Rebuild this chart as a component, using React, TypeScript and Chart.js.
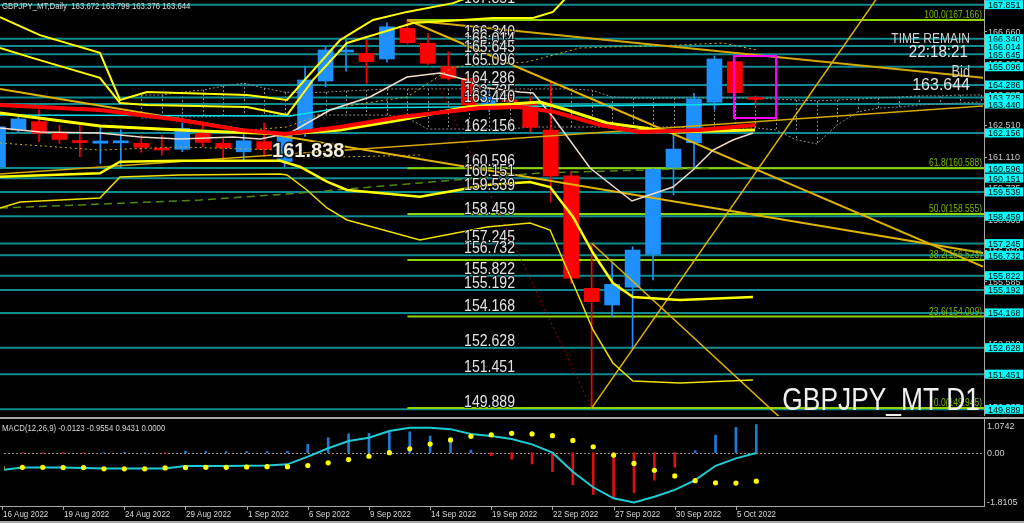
import React, { useEffect, useRef } from "react";
import { Chart, registerables } from "chart.js";

Chart.register(...registerables);

type P = [number, number];

// ---------- texts ----------
const symbolTitle = "GBPJPY_MT,Daily  163.672 163.799 163.376 163.644";
const macdTitle = "MACD(12,26,9) -0.0123 -0.9554 0.9431 0.0000";
const watermark = "GBPJPY_MT D1";
const timeLabel = "TIME REMAIN";
const timeValue = "22:18:21";
const bidLabel = "Bid";
const bidValue = "163.644";
const markText = "161.838";
const markPrice = 161.838;
const markBar = 13.39;

// ---------- candles (bar index 0 = 16 Aug 2022) ----------
const opens = [160.66, 162.29, 162.66, 162.14, 161.82, 161.7, 161.72, 161.7, 161.45, 161.43, 162.14, 161.7, 161.32, 161.77, 160.89, 162.14, 164.46, 165.75, 165.69, 165.44, 166.8, 166.14, 165.1, 164.58, 163.25, 163.62, 163.44, 162.29, 160.25, 155.26, 154.52, 155.31, 156.77, 160.63, 161.72, 163.52, 165.32, 163.672];
const highs = [162.6, 162.95, 163.17, 162.5, 162.5, 162.4, 162.3, 162.05, 162.05, 162.6, 162.66, 161.9, 162.15, 162.6, 162.2, 165.1, 166.0, 166.28, 166.28, 167.04, 167.17, 166.58, 165.76, 164.62, 164.0, 163.9, 163.77, 164.43, 160.44, 157.26, 156.37, 157.11, 160.6, 162.21, 163.92, 165.57, 165.4, 163.799];
const lows = [160.5, 162.2, 161.77, 161.7, 161.1, 160.8, 160.6, 161.3, 161.17, 161.33, 161.55, 160.88, 160.95, 161.1, 160.66, 162.0, 164.2, 164.9, 164.36, 165.3, 166.1, 165.2, 164.5, 163.35, 163.1, 163.3, 162.21, 159.1, 155.48, 149.945, 154.0, 152.6, 155.63, 159.4, 160.59, 163.2, 163.8, 163.376];
const closes = [162.43, 162.78, 162.14, 161.87, 161.73, 161.8, 161.77, 161.52, 161.4, 162.36, 161.74, 161.5, 161.81, 161.43, 162.1, 164.51, 165.84, 165.8, 165.32, 166.87, 166.16, 165.25, 164.58, 163.4, 163.77, 163.55, 162.41, 160.25, 155.71, 154.67, 155.44, 156.96, 160.54, 161.44, 163.66, 165.44, 163.94, 163.644];

const dateTickBars = [0, 3, 6, 9, 12, 15, 18, 21, 24, 27, 30, 33, 36];
const dateTickLabels = ["16 Aug 2022", "19 Aug 2022", "24 Aug 2022", "29 Aug 2022", "1 Sep 2022", "6 Sep 2022", "9 Sep 2022", "14 Sep 2022", "19 Sep 2022", "22 Sep 2022", "27 Sep 2022", "30 Sep 2022", "5 Oct 2022"];

// ---------- horizontal levels ----------
const levels = [167.851, 166.34, 166.014, 165.645, 165.096, 164.286, 163.725, 163.44, 162.156, 160.596, 160.151, 159.539, 158.459, 157.245, 156.732, 155.822, 155.192, 154.168, 152.628, 151.451, 149.889];
const levelTextBar = 22.77;
const fibLevels = [167.166, 160.588, 158.555, 156.523, 154.009, 149.945];
const fibNames = ["100.0", "61.8", "50.0", "38.2", "23.6", "0.0"];
const fibStartBar = 20;
const axisTicks = [166.66, 165.26, 163.885, 162.51, 161.11, 159.735, 158.335, 156.96, 155.585, 154.185, 152.81, 151.41, 150.035];

// ---------- indicator lines [bar, price] ----------
const upperBand1: P[] = [[0.1, 167.3], [2.05, 166.5], [4.98, 165.71], [5.96, 163.62], [7.28, 163.97], [12.16, 163.84], [14.12, 163.62], [16.71, 166.28], [18.32, 167.17], [19.98, 167.53], [22.23, 167.92], [23.3, 168.28]];
const upperBand2: P[] = [[0.1, 165.93], [1.71, 165.48], [4.98, 164.6], [5.96, 163.49], [7.28, 163.4], [12.16, 163.31], [14.12, 162.95], [15.39, 164.51], [17.05, 166.15], [18.66, 166.59], [20.27, 167.04], [21.93, 167.13], [24.18, 167.26], [26.14, 167.26], [27.11, 167.53], [27.8, 168.2]];
const lowerBand1: P[] = [[0.1, 160.215], [4.98, 160.366], [5.96, 160.881], [8.89, 160.925], [13.78, 160.925], [14.75, 160.659], [16.07, 159.993], [17.05, 159.625], [20.61, 159.327], [23.89, 159.847], [25.99, 159.98], [26.97, 159.758], [28.09, 158.426], [29.07, 156.829], [30.04, 155.497], [31.02, 154.876], [33.32, 154.742], [36.88, 154.876]];
const lowerBand2: P[] = [[0.1, 158.826], [1.07, 159.092], [4.98, 159.27], [5.96, 160.2], [8.89, 160.29], [13.78, 160.335], [14.12, 160.29], [15.09, 159.625], [16.07, 158.826], [17.05, 158.293], [20.61, 157.406], [23.89, 157.983], [25.99, 158.16], [26.97, 157.849], [28.09, 155.497], [29.07, 153.411], [30.04, 151.946], [31.02, 151.147], [33.32, 151.058], [36.88, 151.192]];
const maYellow: P[] = [[0.1, 163.042], [4.98, 162.465], [9.87, 162.244], [14.12, 162.11], [16.71, 162.288], [19.64, 162.732], [22.91, 163.309], [26.48, 163.531], [27.8, 163.176], [29.75, 162.599], [32.97, 162.199], [36.98, 162.288]];
const maRed: P[] = [[0.1, 163.398], [4.98, 163.176], [8.89, 162.732], [11.82, 162.288], [14.02, 162.11], [16.71, 162.421], [19.64, 162.865], [23.55, 163.264], [25.5, 163.309], [27.21, 163.087], [29.41, 162.51], [31.36, 162.199], [34.29, 162.288], [36.98, 162.51]];
const maWhite: P[] = [[0.1, 162.377], [2.05, 162.199], [4.98, 162.155], [6.94, 161.977], [8.89, 161.889], [11.48, 161.977], [12.8, 161.889], [14.26, 162.155], [16.22, 163.176], [18.17, 163.753], [19.98, 164.64], [21.59, 164.818], [22.91, 164.507], [23.55, 164.196], [25.5, 163.975], [26.14, 163.93], [27.11, 162.865], [28.92, 160.601], [30.97, 159.137], [32.97, 159.758], [33.95, 160.513], [34.93, 161.4], [35.9, 161.844], [36.88, 162.155]];
const maCyan: P[] = [[0.1, 162.954], [14.26, 162.91], [16.71, 163.265], [33.32, 163.398], [36.98, 163.442]];
const dottedLow: P[] = [[0.1, 161.711], [4.98, 161.4], [8.89, 161.533], [13.78, 161.4], [14.75, 161.045], [20.61, 161.178]];
const dottedUp: P[] = [[12.31, 162.288], [14.12, 162.421], [16.71, 163.309], [19.98, 163.753], [22.23, 165.084], [25.84, 165.306], [28.43, 165.928], [33.32, 166.061], [35.42, 166.15], [37.08, 165.839]];
const greenDashed: P[] = [[0.1, 158.826], [4.98, 159.0], [9.87, 159.18], [14.75, 159.49], [20.61, 159.94], [26.48, 160.38], [34.93, 160.6]];

// cloud (bars 7..48)
const cloudStartBar = 7;
const cloudTop = [163.84, 163.84, 163.97, 164.06, 164.24, 164.37, 164.15, 163.97, 163.93, 163.97, 164.02, 164.06, 164.11, 164.11, 164.11, 164.11, 164.11, 164.11, 164.11, 164.11, 164.11, 164.11, 164.06, 163.75, 163.71, 163.71, 163.71, 163.71, 163.71, 163.71, 163.71, 163.66, 163.62, 163.58, 163.62, 163.66, 163.71, 163.75, 163.8, 163.8, 163.84, 163.84];
const cloudBottom = [162.82, 162.82, 162.87, 162.87, 162.91, 162.91, 162.95, 162.95, 162.95, 162.95, 162.95, 162.95, 162.95, 162.82, 162.33, 162.33, 162.33, 162.33, 162.33, 162.42, 162.42, 162.42, 162.42, 162.42, 162.42, 162.42, 162.42, 162.38, 162.38, 162.38, 162.38, 162.29, 161.85, 161.67, 162.51, 163.09, 163.26, 163.31, 163.4, 163.44, 163.49, 163.53];

// trend lines [bar, price]
const trend1: P[] = [[20, 167.17], [48.12, 164.609]];
const trend2: P[] = [[0.1, 160.335], [48.12, 163.353]];
const trend3: P[] = [[29, 149.945], [43, 168.22]];
const trend4: P[] = [[29, 157.26], [38.2, 149.53]];
const trend5: P[] = [[20, 167.17], [48.12, 156.221]];
const trend6: P[] = [[0.1, 164.108], [48.12, 156.829]];
const redDotted: P[] = [[20, 167.17], [29, 149.945]];

const focusBox = { x0: 35.95, x1: 38.01, top: 165.57, bottom: 162.82 };

// ---------- MACD ----------
const macdMain = [-0.58, -0.5, -0.5, -0.5, -0.51, -0.53, -0.53, -0.53, -0.53, -0.45, -0.45, -0.45, -0.44, -0.43, -0.39, -0.13, 0.15, 0.39, 0.5, 0.73, 0.84, 0.84, 0.79, 0.63, 0.56, 0.46, 0.28, 0.0, -0.64, -1.16, -1.53, -1.67, -1.48, -1.25, -0.92, -0.44, -0.19, -0.0123];
const macdSignal = [-0.49, -0.49, -0.49, -0.5, -0.5, -0.54, -0.54, -0.54, -0.51, -0.5, -0.49, -0.49, -0.48, -0.47, -0.47, -0.43, -0.34, -0.23, -0.12, 0.0, 0.13, 0.29, 0.43, 0.55, 0.6, 0.65, 0.63, 0.57, 0.41, 0.2, -0.08, -0.36, -0.59, -0.78, -0.94, -1.01, -1.02, -0.9554];
const macdHist = [0, -0.02, -0.02, -0.02, -0.01, 0.0, 0.01, 0.0, -0.02, 0.05, 0.04, 0.04, 0.04, 0.04, 0.05, 0.28, 0.5, 0.63, 0.65, 0.7, 0.7, 0.56, 0.37, 0.09, -0.1, -0.22, -0.38, -0.64, -1.08, -1.4, -1.5, -1.34, -0.92, -0.49, 0.07, 0.59, 0.85, 0.9431];
const macdTopLabel = "1.0742";
const macdZeroLabel = "0.00";
const macdBottomLabel = "-1.8105";

// ---------- layout constants ----------
const X_MIN = 0.0977;
const X_MAX = 48.168;
const Y_MIN = 149.594;
const Y_MAX = 168.058;
const M_MIN = -1.789;
const M_MAX = 1.097;
const FONT = '"Liberation Sans", Arial, sans-serif';

const BLUE = "#1e90ff";
const RED = "#ff0000";
const TEAL = "#0f8c90";
const FIB = "#8fd400";

function txt(ctx: CanvasRenderingContext2D, s: string, x: number, y: number, size: number, color: string, sx = 1, align: CanvasTextAlign = "left", bold = false, stroke = 0) {
  ctx.save();
  ctx.font = `${bold ? "bold " : ""}${size}px ${FONT}`;
  ctx.textAlign = align;
  ctx.textBaseline = "alphabetic";
  ctx.translate(x, y);
  ctx.scale(sx, 1);
  if (stroke > 0) {
    ctx.strokeStyle = "rgba(0,0,0,0.8)";
    ctx.lineWidth = stroke;
    ctx.lineJoin = "round";
    ctx.strokeText(s, 0, 0);
  }
  ctx.fillStyle = color;
  ctx.fillText(s, 0, 0);
  ctx.restore();
}

function lineDs(points: P[], color: string, width: number, order: number, dash: number[] = []) {
  return {
    type: "line" as const,
    data: points.map(([x, y]) => ({ x, y })),
    borderColor: color,
    borderWidth: width,
    borderDash: dash,
    pointRadius: 0,
    tension: 0,
    fill: false,
    order,
  };
}

function mainConfig(): any {
  const candleColor = opens.map((o, i) => (closes[i] >= o ? BLUE : RED));
  const datasets: any[] = [];
  levels.forEach((l) => datasets.push(lineDs([[X_MIN, l], [X_MAX, l]], TEAL, 2, 100)));
  fibLevels.forEach((l) => datasets.push(lineDs([[fibStartBar, l], [X_MAX, l]], FIB, 2, 95)));
  datasets.push(lineDs(cloudTop.map((v, k) => [cloudStartBar + k, v] as P), "#8a8a8a", 1, 90, [2, 2]));
  datasets.push(lineDs(cloudBottom.map((v, k) => [cloudStartBar + k, v] as P), "#8a8a8a", 1, 90, [2, 2]));
  datasets.push(lineDs(greenDashed, "#4f8a10", 1.5, 85, [8, 5]));
  datasets.push(lineDs(redDotted, "#b00000", 1, 84, [2, 3]));
  datasets.push({
    type: "bar",
    data: opens.map((_, i) => ({ x: i, y: [lows[i], highs[i]] })),
    backgroundColor: candleColor,
    barThickness: 1,
    grouped: false,
    order: 60,
  });
  datasets.push({
    type: "bar",
    data: opens.map((o, i) => ({ x: i, y: [o, closes[i]] })),
    backgroundColor: candleColor,
    barThickness: 15,
    minBarLength: 2,
    grouped: false,
    order: 55,
  });
  datasets.push(lineDs(dottedLow, "#c8b400", 1, 30, [2, 3]));
  datasets.push(lineDs(dottedUp, "#c8b400", 1, 30, [2, 3]));
  datasets.push(lineDs(trend1, "#d4a800", 2, 25));
  datasets.push(lineDs(trend2, "#d4a800", 1.5, 25));
  datasets.push(lineDs(trend3, "#e0b400", 1.5, 25));
  datasets.push(lineDs(trend4, "#e0b400", 1.5, 25));
  datasets.push(lineDs(trend5, "#e0b400", 2, 25));
  datasets.push(lineDs(trend6, "#e0b400", 2, 25));
  datasets.push(lineDs(lowerBand2, "#f0e000", 1.5, 20));
  datasets.push(lineDs(lowerBand1, "#ffff00", 2.5, 20));
  datasets.push(lineDs(upperBand1, "#ffff00", 2, 20));
  datasets.push(lineDs(upperBand2, "#ffff00", 2, 20));
  datasets.push(lineDs(maCyan, "#00e0e8", 1.5, 16));
  datasets.push(lineDs(maWhite, "#f0dccb", 1.5, 15));
  datasets.push(lineDs(maYellow, "#ffff00", 3, 13));
  datasets.push(lineDs(maRed, "#ff0000", 4, 12));

  const plugin = {
    id: "mainDeco",
    beforeDraw(chart: any) {
      const ctx = chart.ctx as CanvasRenderingContext2D;
      ctx.save();
      ctx.fillStyle = "#000";
      ctx.fillRect(0, 0, chart.width, chart.height);
      ctx.restore();
    },
    beforeDatasetsDraw(chart: any) {
      const ctx = chart.ctx as CanvasRenderingContext2D;
      const xs = chart.scales.x;
      const ys = chart.scales.y;
      ctx.save();
      ctx.strokeStyle = "#8a8a8a";
      ctx.lineWidth = 1;
      ctx.setLineDash([2, 2]);
      cloudTop.forEach((t, k) => {
        const x = Math.round(xs.getPixelForValue(cloudStartBar + k)) + 0.5;
        ctx.beginPath();
        ctx.moveTo(x, ys.getPixelForValue(t));
        ctx.lineTo(x, ys.getPixelForValue(cloudBottom[k]));
        ctx.stroke();
      });
      ctx.restore();
    },
    afterDraw(chart: any) {
      const ctx = chart.ctx as CanvasRenderingContext2D;
      const xs = chart.scales.x;
      const ys = chart.scales.y;
      const area = chart.chartArea;
      // magenta box
      ctx.save();
      ctx.strokeStyle = "#ff00ff";
      ctx.lineWidth = 2;
      const bx0 = xs.getPixelForValue(focusBox.x0);
      const bx1 = xs.getPixelForValue(focusBox.x1);
      const by0 = ys.getPixelForValue(focusBox.top);
      const by1 = ys.getPixelForValue(focusBox.bottom);
      ctx.strokeRect(bx0, by0, bx1 - bx0, by1 - by0);
      ctx.restore();

      ctx.save();
      ctx.beginPath();
      ctx.rect(area.left, area.top, area.right - area.left, area.bottom - area.top);
      ctx.clip();
      // level texts
      const lx = xs.getPixelForValue(levelTextBar);
      levels.forEach((l) => {
        txt(ctx, l.toFixed(3), lx, ys.getPixelForValue(l) - 2, 16, "#e4e4e4", 0.88, "left", false, 2);
      });
      // fib texts
      fibLevels.forEach((l, k) => {
        txt(ctx, `${fibNames[k]}(${l.toFixed(3)})`, area.right - 2, ys.getPixelForValue(l) - 2, 10, "#7cb800", 0.85, "right");
      });
      // mark label
      txt(ctx, markText, xs.getPixelForValue(markBar), ys.getPixelForValue(markPrice) + 17, 20, "#f4eedc", 1.0, "left", true, 3);
      // title
      txt(ctx, symbolTitle, 2, 9, 9.5, "#d8d8d8", 0.82);
      // time / bid
      txt(ctx, timeLabel, area.right - 14, 43, 15, "#cfcfcf", 0.8, "right");
      txt(ctx, timeValue, area.right - 16, 57, 16, "#e2e2e2", 0.95, "right");
      txt(ctx, bidLabel, area.right - 14, 77, 16, "#cfcfcf", 0.8, "right");
      txt(ctx, bidValue, area.right - 14, 90, 17, "#e2e2e2", 0.94, "right");
      // watermark
      txt(ctx, watermark, area.right - 4, area.bottom - 6, 31, "#f0f0f0", 0.85, "right");
      ctx.restore();

      // right axis
      ctx.save();
      ctx.fillStyle = "#000";
      ctx.fillRect(area.right, 0, chart.width - area.right, chart.height);
      ctx.strokeStyle = "#a8a8a8";
      ctx.lineWidth = 1;
      ctx.beginPath();
      ctx.moveTo(area.right + 0.5, 0);
      ctx.lineTo(area.right + 0.5, chart.height);
      ctx.stroke();
      axisTicks.forEach((t) => {
        const y = ys.getPixelForValue(t);
        ctx.beginPath();
        ctx.moveTo(area.right, Math.round(y) + 0.5);
        ctx.lineTo(area.right + 3, Math.round(y) + 0.5);
        ctx.stroke();
        txt(ctx, t.toFixed(3), area.right + 4, y + 3.5, 9.5, "#c8c8c8", 0.95);
      });
      levels.forEach((l) => {
        const y = ys.getPixelForValue(l);
        ctx.fillStyle = "#00ffff";
        ctx.fillRect(area.right + 1, y - 4.5, 38, 9);
        txt(ctx, l.toFixed(3), area.right + 4, y + 3.5, 9.5, "#000", 0.95);
      });
      ctx.restore();
    },
  };

  return {
    type: "bar",
    data: { datasets },
    options: {
      responsive: false,
      animation: false,
      devicePixelRatio: 1,
      events: [],
      layout: { padding: { left: 0, top: 0, right: 40, bottom: 0 } },
      plugins: { legend: { display: false }, tooltip: { enabled: false } },
      scales: {
        x: { type: "linear", min: X_MIN, max: X_MAX, offset: false, display: false },
        y: { type: "linear", min: Y_MIN, max: Y_MAX, display: false },
      },
    },
    plugins: [plugin],
  };
}

function macdConfig(): any {
  const datasets: any[] = [
    {
      type: "line",
      data: macdSignal.map((v, i) => ({ x: i, y: v })),
      showLine: false,
      pointRadius: 2.6,
      pointBackgroundColor: "#ffff00",
      pointBorderWidth: 0,
      order: 1,
    },
    {
      type: "line",
      data: macdMain.map((v, i) => ({ x: i, y: v })),
      borderColor: "#20ccd4",
      borderWidth: 2,
      pointRadius: 0,
      tension: 0,
      order: 2,
    },
    {
      type: "bar",
      data: macdHist.map((v, i) => ({ x: i, y: v })),
      backgroundColor: macdHist.map((v) => (v >= 0 ? "#1f7ad6" : "#e01010")),
      barThickness: 2,
      grouped: false,
      order: 3,
    },
  ];

  const plugin = {
    id: "macdDeco",
    beforeDraw(chart: any) {
      const ctx = chart.ctx as CanvasRenderingContext2D;
      ctx.save();
      ctx.fillStyle = "#000";
      ctx.fillRect(0, 0, chart.width, chart.height);
      ctx.restore();
    },
    beforeDatasetsDraw(chart: any) {
      const ctx = chart.ctx as CanvasRenderingContext2D;
      const ys = chart.scales.y;
      const area = chart.chartArea;
      ctx.save();
      ctx.strokeStyle = "#8c8c8c";
      ctx.lineWidth = 1;
      ctx.setLineDash([2, 2]);
      const y0 = Math.round(ys.getPixelForValue(0)) + 0.5;
      ctx.beginPath();
      ctx.moveTo(area.left, y0);
      ctx.lineTo(area.right, y0);
      ctx.stroke();
      ctx.restore();
    },
    afterDraw(chart: any) {
      const ctx = chart.ctx as CanvasRenderingContext2D;
      const xs = chart.scales.x;
      const ys = chart.scales.y;
      const area = chart.chartArea;
      ctx.save();
      // borders
      ctx.fillStyle = "#000";
      ctx.fillRect(area.right, 0, chart.width - area.right, chart.height);
      ctx.fillRect(0, area.bottom, chart.width, chart.height - area.bottom);
      ctx.fillStyle = "#a8a8a8";
      ctx.fillRect(0, 1, chart.width, 2);
      ctx.fillRect(0, area.bottom, area.right + 1, 1);
      ctx.fillRect(area.right, 2, 1, area.bottom - 2);
      ctx.fillRect(0, chart.height - 2, chart.width, 2);
      // title
      txt(ctx, macdTitle, 2, area.top + 10.5, 9.5, "#d8d8d8", 0.82);
      // right labels
      txt(ctx, macdTopLabel, area.right + 3, area.top + 9, 9.5, "#d0d0d0", 0.95);
      txt(ctx, macdZeroLabel, area.right + 3, ys.getPixelForValue(0) + 3, 9.5, "#d0d0d0", 0.95);
      txt(ctx, macdBottomLabel, area.right + 3, area.bottom - 1, 9.5, "#d0d0d0", 0.95);
      // dates
      dateTickBars.forEach((b, k) => {
        const x = Math.round(xs.getPixelForValue(b));
        ctx.fillStyle = "#a8a8a8";
        ctx.fillRect(x, area.bottom, 1, 4);
        txt(ctx, dateTickLabels[k], x + 1, area.bottom + 11, 9.5, "#d8d8d8", 0.84);
      });
      ctx.restore();
    },
  };

  return {
    type: "bar",
    data: { datasets },
    options: {
      responsive: false,
      animation: false,
      devicePixelRatio: 1,
      events: [],
      layout: { padding: { left: 0, top: 4, right: 40, bottom: 17 } },
      plugins: { legend: { display: false }, tooltip: { enabled: false } },
      scales: {
        x: { type: "linear", min: X_MIN, max: X_MAX, offset: false, display: false },
        y: { type: "linear", min: M_MIN, max: M_MAX, display: false },
      },
    },
    plugins: [plugin],
  };
}

export default function App() {
  const mainRef = useRef<HTMLCanvasElement>(null);
  const macdRef = useRef<HTMLCanvasElement>(null);
  useEffect(() => {
    document.body.style.margin = "0";
    document.body.style.background = "#000";
    const c1 = new Chart(mainRef.current as HTMLCanvasElement, mainConfig());
    const c2 = new Chart(macdRef.current as HTMLCanvasElement, macdConfig());
    return () => {
      c1.destroy();
      c2.destroy();
    };
  }, []);
  return (
    <div style={{ position: "relative", width: 1024, height: 523, background: "#000", overflow: "hidden" }}>
      <canvas ref={mainRef} width={1024} height={416} style={{ position: "absolute", left: 0, top: 0 }} />
      <canvas ref={macdRef} width={1024} height={107} style={{ position: "absolute", left: 0, top: 416 }} />
    </div>
  );
}
